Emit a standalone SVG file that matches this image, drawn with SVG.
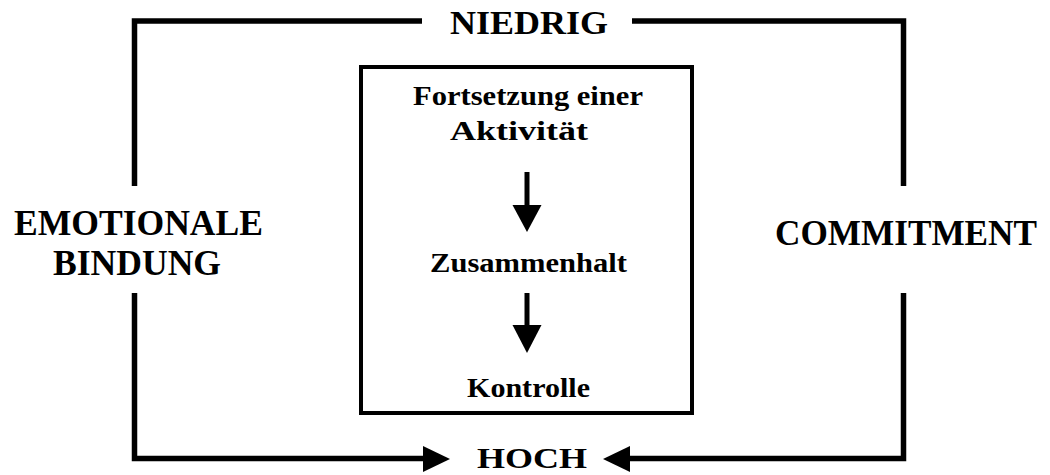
<svg xmlns="http://www.w3.org/2000/svg" width="1050" height="475" viewBox="0 0 1050 475">
<style>
.lbl{font-family:"Liberation Serif","Times New Roman",serif;font-weight:bold;fill:#000}
.big{font-size:35px}
.small{font-size:28px}
.frame{fill:none;stroke:#000;stroke-width:5.5;stroke-linejoin:miter}
.shaft{stroke:#000;stroke-width:5}
.head{fill:#000}
</style>
<rect width="1050" height="475" fill="#fff"/>
<g id="connectors">
<path class="frame" d="M134.5,186 V21 H422"/>
<path class="frame" d="M632,21 H903.5 V186"/>
<path class="frame" d="M134.5,293 V458.5 H425"/>
<polygon class="head" points="423,446 450,459 423,472"/>
<path class="frame" d="M903.5,293 V458.5 H628"/>
<polygon class="head" points="630,446 603,459 630,472"/>
<line class="shaft" x1="527" y1="172" x2="527" y2="207"/>
<polygon class="head" points="512.5,205 541.5,205 527,232"/>
<line class="shaft" x1="527" y1="293" x2="527" y2="327"/>
<polygon class="head" points="512.5,325 541.5,325 527,353"/>
</g>
<g id="niedrig"><text class="lbl" x="450" y="33.5" font-size="33" textLength="158" lengthAdjust="spacingAndGlyphs">NIEDRIG</text></g>
<g id="hoch"><text class="lbl" x="477" y="468" font-size="30" textLength="110" lengthAdjust="spacingAndGlyphs">HOCH</text></g>
<g id="emotionale-bindung">
<text class="lbl big" x="14" y="235" textLength="249" lengthAdjust="spacingAndGlyphs">EMOTIONALE</text>
<text class="lbl big" x="53" y="274.5" textLength="168" lengthAdjust="spacingAndGlyphs">BINDUNG</text>
</g>
<g id="commitment"><text class="lbl big" x="775" y="245" textLength="262" lengthAdjust="spacingAndGlyphs">COMMITMENT</text></g>
<g id="box">
<rect x="361" y="67" width="331" height="346" fill="none" stroke="#000" stroke-width="4"/>
</g>
<g id="fortsetzung">
<text class="lbl small" x="413" y="105" textLength="230" lengthAdjust="spacingAndGlyphs">Fortsetzung einer</text>
<text class="lbl small" x="450" y="140" textLength="138" lengthAdjust="spacingAndGlyphs">Aktivität</text>
</g>
<g id="zusammenhalt"><text class="lbl small" x="430" y="272" textLength="197" lengthAdjust="spacingAndGlyphs">Zusammenhalt</text></g>
<g id="kontrolle"><text class="lbl small" x="467" y="396.5" textLength="123" lengthAdjust="spacingAndGlyphs">Kontrolle</text></g>
</svg>
